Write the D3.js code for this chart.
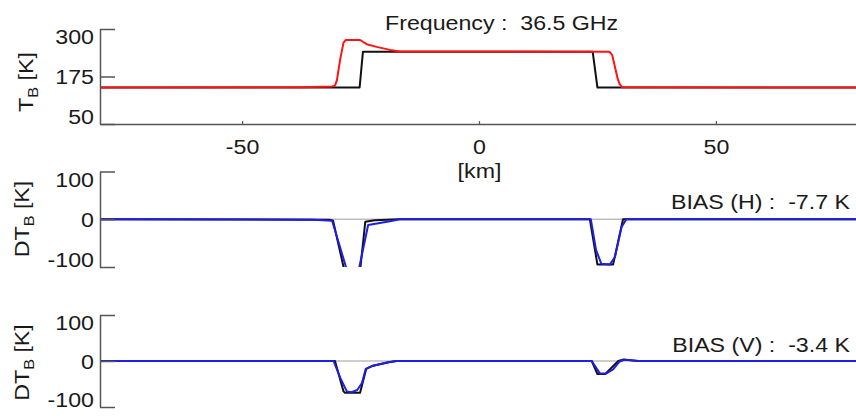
<!DOCTYPE html>
<html>
<head>
<meta charset="utf-8">
<script src="https://cdn.jsdelivr.net/npm/d3@7"></script>
<style>
  html, body { margin: 0; padding: 0; background: #fff; }
  svg { display: block; }
  text { font-family: "Liberation Sans", Arial, Helvetica, sans-serif; fill: #1a1a1a; white-space: pre; }
</style>
</head>
<body>
<svg id="chart" width="856" height="416"></svg>
<script>
// Along-track distance axis and tick values
const kmDomain = [-80, 80];
const kmTicks = [-50, 0, 50];
const tbDomain = [50, 300];
const tbTicks = [50, 175, 300];
const dtDomain = [-100, 100];
const dtTicks = [-100, 0, 100];

// Brightness temperature (K): reference (black) and simulated (red)
const tbRefKm  = [-80, -25.2, -24.5, 24.0, 25.0, 80];
const tbRefVal = [146, 146, 240, 240, 146, 146];
const tbSimKm  = [-80, -38, -31, -30.4, -30.0, -29.3, -28.6, -28.1, -25.1, -23.7, -21.6, -18.8, -16.7, 27.5, 28.1, 28.7, 29.3, 29.7, 30.2, 33, 80];
const tbSimVal = [146, 146.5, 149, 151, 165, 220, 264, 271, 271, 260, 253, 245, 241, 240, 232, 200, 168, 155, 147, 146.5, 146];

// Brightness temperature difference, H polarisation
const dtHRefKm  = [-80, -31.5, -30.8, -28.0, -25.3, -24.0, -22, -17, 23.4, 25.0, 28.3, 30.4, 80];
const dtHRefVal = [0, -1, -3, -126, -126, -5, -2, 0, 0, -95, -95, 0, 0];
const dtHRetKm  = [-80, -35, -31, -27.3, -25.8, -23.4, -18.8, -16.7, 23.6, 24.7, 25.8, 27.6, 28.7, 30.1, 31.1, 80];
const dtHRetVal = [0, -1, -3, -126, -126, -12, -4, 0, 0, -64, -93, -95, -79, -16, 0, 0];

// Brightness temperature difference, V polarisation
const dtVRefKm  = [-80, -30.4, -28.6, -28.3, -25.1, -23.8, -22.6, -19.1, -17.4, 23.8, 25.0, 26.6, 29.4, 30.4, 33.6, 80];
const dtVRefVal = [0, 0, -66, -69, -69, -17, -11, -2.6, 0, 0, -28.5, -28.5, 0, 3, 0, 0];
const dtVRetKm  = [-80, -30.7, -29.3, -27.9, -26.9, -25.7, -24.7, -23.9, -22.6, -19.1, -17.4, 23.8, 24.8, 25.5, 26.9, 28.3, 29.7, 30.8, 33.6, 80];
const dtVRetVal = [0, 0, -36, -66, -68, -63, -48, -17, -11, -2.6, 0, 0, -16, -27, -27, -18, -1, 3, 0, 0];

const titleText = "Frequency :  36.5 GHz";
const biasH = "BIAS (H) :  -7.7 K";
const biasV = "BIAS (V) :  -3.4 K";

const svg = d3.select("#chart");
const SX = 1.16;           // horizontal stretch of the lettering
const FS = 20;
const axisColor = "#555";
const fmt = d => String(d);   // plain hyphen-minus for negative ticks

const x = d3.scaleLinear().domain(kmDomain).range([100, 858]);

function pairs(xs, ys) { return xs.map((v, i) => [v, ys[i]]); }

function label(str, px, py, anchor) {
  return svg.append("text")
    .attr("transform", `translate(${px},${py}) scale(${SX},1)`)
    .attr("text-anchor", anchor || "start")
    .attr("font-size", FS)
    .text(str);
}

function yTitle(main, px, py) {
  const t = svg.append("text")
    .attr("transform", `translate(${px},${py}) rotate(-90) scale(${SX},1)`)
    .attr("text-anchor", "middle")
    .attr("font-size", FS);
  t.append("tspan").text(main);
  t.append("tspan").attr("font-size", 14).attr("dy", 5).text("B");
  t.append("tspan").attr("dy", -5).text(" [K]");
}

function panel(id, domain, ticks, range, series) {
  const y = d3.scaleLinear().domain(domain).range(range);
  const clipId = "clip-" + id;
  svg.append("clipPath").attr("id", clipId)
    .append("rect")
    .attr("x", x.range()[0]).attr("y", range[1])
    .attr("width", x.range()[1] - x.range()[0])
    .attr("height", range[0] - range[1]);

  const g = svg.append("g").attr("clip-path", `url(#${clipId})`);
  const line = d3.line().x(d => x(d[0])).y(d => y(d[1]));
  series.forEach(s => {
    g.append("path")
      .datum(pairs(s.km, s.val))
      .attr("fill", "none")
      .attr("stroke", s.color)
      .attr("stroke-width", s.width || 2)
      .attr("stroke-linejoin", "round")
      .attr("d", line);
  });

  const ax = svg.append("g")
    .attr("transform", `translate(${x.range()[0]},0)`)
    .call(d3.axisLeft(y).tickValues(ticks).tickSizeInner(-15).tickSizeOuter(0).tickPadding(6).tickFormat(fmt));
  ax.attr("font-family", null).attr("font-size", null);
  ax.select(".domain").attr("stroke", axisColor).attr("stroke-width", 1.5);
  ax.selectAll(".tick line").attr("stroke", axisColor).attr("stroke-width", 1.5);
  ax.selectAll(".tick text")
    .attr("font-size", FS)
    .attr("fill", "#1a1a1a")
    .attr("transform", `scale(${SX},1)`)
    .attr("x", -6 / SX)
    .attr("dy", d => d === domain[1] ? 14.5 : (d === domain[0] ? -1 : 7.3));
  return y;
}

// Top panel: brightness temperature
panel("tb", tbDomain, tbTicks, [124, 29], [
  { km: tbRefKm, val: tbRefVal, color: "#111" },
  { km: tbSimKm, val: tbSimVal, color: "#ff1414" }
]);

const xAx = svg.append("g")
  .attr("transform", "translate(0,124)")
  .call(d3.axisBottom(x).tickValues(kmTicks).tickSizeInner(-3).tickSizeOuter(0).tickPadding(16).tickFormat(fmt));
xAx.attr("font-family", null).attr("font-size", null);
xAx.select(".domain").attr("stroke", axisColor).attr("stroke-width", 1.5);
xAx.selectAll(".tick line").attr("stroke", axisColor).attr("stroke-width", 1.2);
xAx.selectAll(".tick text")
  .attr("font-size", FS)
  .attr("fill", "#1a1a1a")
  .attr("transform", `scale(${SX},1)`)
  .attr("dy", "0.71em");

// Middle and bottom panels: zero reference lines drawn beneath the curves
function zeroLine(yPix) {
  svg.append("line")
    .attr("x1", x.range()[0]).attr("x2", x.range()[1])
    .attr("y1", yPix).attr("y2", yPix)
    .attr("stroke", "#bdbdbd").attr("stroke-width", 1.5);
}
const yH = d3.scaleLinear().domain(dtDomain).range([267, 171.5]);
const yV = d3.scaleLinear().domain(dtDomain).range([407, 315]);
zeroLine(yH(0));
zeroLine(yV(0));

panel("dth", dtDomain, dtTicks, [267, 171.5], [
  { km: dtHRefKm, val: dtHRefVal, color: "#111" },
  { km: dtHRetKm, val: dtHRetVal, color: "#1e1ee6" }
]);
panel("dtv", dtDomain, dtTicks, [407, 315], [
  { km: dtVRefKm, val: dtVRefVal, color: "#111" },
  { km: dtVRetKm, val: dtVRetVal, color: "#1e1ee6" }
]);

// Titles and annotations
label(titleText, 385, 29.5, "start");
label("[km]", 479.5, 178, "middle");
label(biasH, 850, 208.5, "end");
label(biasV, 850, 352, "end");

yTitle("T", 33, 82);
yTitle("DT", 28.5, 219);
yTitle("DT", 28.5, 362.5);
</script>
</body>
</html>
